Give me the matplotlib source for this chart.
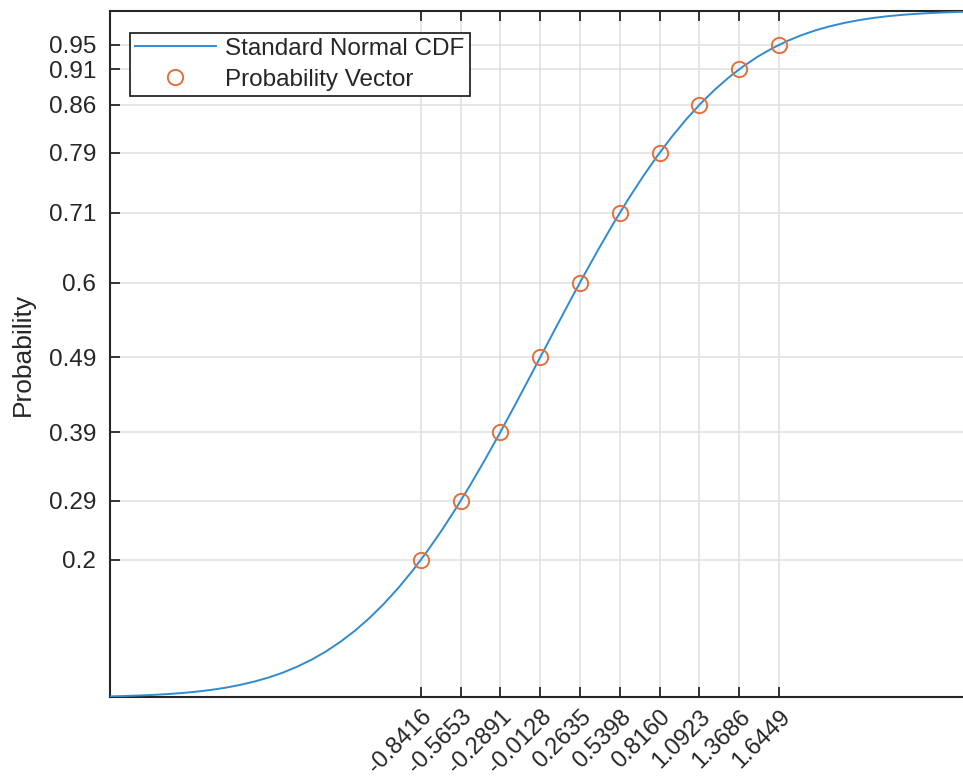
import matplotlib
matplotlib.use("Agg")
import matplotlib.pyplot as plt

# Standard normal CDF curve, sampled (x, y)
curve_x = [-3.0, -2.9, -2.8, -2.7, -2.6, -2.5, -2.4, -2.3, -2.2, -2.1, -2.0,
           -1.9, -1.8, -1.7, -1.6, -1.5, -1.4, -1.3, -1.2, -1.1, -1.0,
           -0.9, -0.8, -0.7, -0.6, -0.5, -0.4, -0.3, -0.2, -0.1, 0.0,
           0.1, 0.2, 0.3, 0.4, 0.5, 0.6, 0.7, 0.8, 0.9, 1.0,
           1.1, 1.2, 1.3, 1.4, 1.5, 1.6, 1.7, 1.8, 1.9, 2.0,
           2.1, 2.2, 2.3, 2.4, 2.5, 2.6, 2.7, 2.8, 2.9, 3.0]
curve_y = [0.0013, 0.0019, 0.0026, 0.0035, 0.0047, 0.0062, 0.0082, 0.0107,
           0.0139, 0.0179, 0.0228, 0.0287, 0.0359, 0.0446, 0.0548, 0.0668,
           0.0808, 0.0968, 0.1151, 0.1357, 0.1587, 0.1841, 0.2119, 0.2420,
           0.2743, 0.3085, 0.3446, 0.3821, 0.4207, 0.4602, 0.5000,
           0.5398, 0.5793, 0.6179, 0.6554, 0.6915, 0.7257, 0.7580, 0.7881,
           0.8159, 0.8413, 0.8643, 0.8849, 0.9032, 0.9192, 0.9332, 0.9452,
           0.9554, 0.9641, 0.9713, 0.9772, 0.9821, 0.9861, 0.9893, 0.9918,
           0.9938, 0.9953, 0.9965, 0.9974, 0.9981, 0.9987]

# Probability vector points
pv_x = [-0.8416, -0.5653, -0.2891, -0.0128, 0.2635, 0.5398, 0.8160, 1.0923,
        1.3686, 1.6449]
pv_y = [0.2000, 0.2859, 0.3863, 0.4949, 0.6039, 0.7053, 0.7928, 0.8626,
        0.9145, 0.9500]

xtick_labels = ["-0.8416", "-0.5653", "-0.2891", "-0.0128", "0.2635",
                "0.5398", "0.8160", "1.0923", "1.3686", "1.6449"]
ytick_labels = ["0.2", "0.29", "0.39", "0.49", "0.6", "0.71", "0.79",
                "0.86", "0.91", "0.95"]

plt.rcParams['font.family'] = ['Liberation Sans', 'DejaVu Sans']

W, H = 963, 781
fig = plt.figure(figsize=(W / 100, H / 100), dpi=100)
left, right, top, bottom = 110, 974, 10.6, 697.3
ax = fig.add_axes([left / W, (H - bottom) / H, (right - left) / W, (bottom - top) / H])

dark = '#262626'
ax.plot(curve_x, curve_y, color='#2f8bd0', lw=1.4, label='Standard Normal CDF', zorder=3)
ax.plot(pv_x, pv_y, linestyle='none', marker='o', markersize=11,
        markerfacecolor='none', markeredgecolor='#e0703c', markeredgewidth=1.4,
        label='Probability Vector', zorder=4)

ax.set_xlim(-3, 3)
ax.set_ylim(0, 1)
ax.set_xticks(pv_x)
ax.set_xticklabels(xtick_labels, rotation=45, ha='right', rotation_mode='anchor',
                   fontsize=17, color=dark)
ax.set_yticks(pv_y)
ax.set_yticklabels(ytick_labels, fontsize=17.5, color=dark)
ax.tick_params(axis='both', direction='in', length=7, width=1.3, color=dark,
               top=True, right=True)
ax.tick_params(axis='x', pad=6)
ax.tick_params(axis='y', pad=10)
ax.grid(True, color='#e0e0e0', lw=1.1)
ax.set_axisbelow(True)
for s in ax.spines.values():
    s.set_color(dark)
    s.set_linewidth(1.5)

ax.set_ylabel('Probability', fontsize=19, color=dark, labelpad=10)

leg = ax.legend(loc='upper left', bbox_to_anchor=(20 / (right - left), 1 - 22 / (bottom - top)),
                fontsize=17.5, frameon=True, fancybox=False, framealpha=1,
                edgecolor=dark, handlelength=3.3, borderpad=0.22, labelspacing=0.36,
                handletextpad=0.4, borderaxespad=0)
leg.get_frame().set_linewidth(1.3)
for t in leg.get_texts():
    t.set_color(dark)

fig.savefig('out.png', dpi=100)
